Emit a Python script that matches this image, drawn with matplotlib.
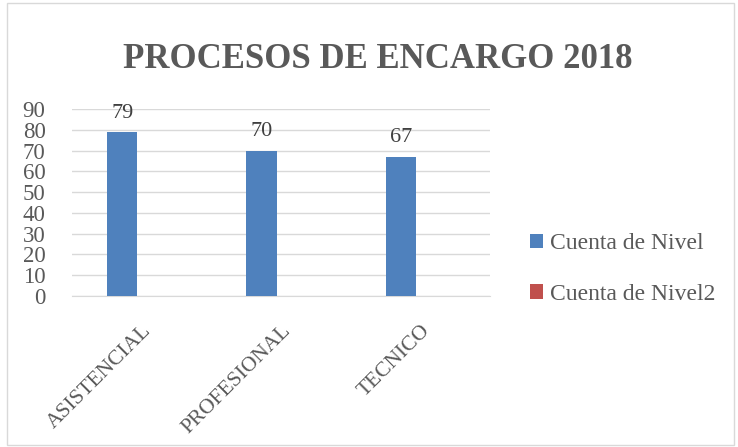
import numpy as np
import matplotlib
matplotlib.use("Agg")
import matplotlib.pyplot as plt
from matplotlib.patches import Rectangle

categorias = ['ASISTENCIAL', 'PROFESIONAL', 'TECNICO']
cuenta_nivel = [79, 70, 67]
cuenta_nivel2 = [0.2, 0, 0]
series = ['Cuenta de Nivel', 'Cuenta de Nivel2']
y_ticks = list(range(0, 91, 10))

plt.rcParams['font.family'] = ['Liberation Serif', 'DejaVu Serif']
gris = '#595959'
azul = '#4F81BD'
rojo = '#C0504D'

fig = plt.figure(figsize=(7.38, 4.47), dpi=100)
# borde del grafico
fig.patches.append(Rectangle((0.009, 0.004), 0.985, 0.99, transform=fig.transFigure,
                             fill=False, edgecolor='#D9D9D9', linewidth=1))

ax = fig.add_axes([72 / 738, 1 - 296 / 447, 418 / 738, 187 / 447])
x = np.arange(len(categorias))
w = 0.218
ax.bar(x - 0.14, cuenta_nivel, w, color=azul, label=series[0], zorder=3)
ax.bar(x + 0.144, cuenta_nivel2, w, color=rojo, label=series[1], zorder=3)

for xi, v in zip(x, cuenta_nivel):
    ax.text(xi - 0.14, v + 4.5, str(v), ha='center', va='bottom', fontsize=16, color='#404040')

ax.set_xlim(-0.5, 2.5)
ax.set_ylim(0, 90)
ax.set_yticks(y_ticks)
ax.set_yticklabels([str(t) for t in y_ticks], fontsize=16.5, color=gris)
ax.yaxis.grid(True, color='#D9D9D9', linewidth=1, zorder=0)
ax.tick_params(axis='y', length=0, pad=19)
ax.set_xticks(x)
ax.set_xticklabels(categorias, rotation=45, ha='right', rotation_mode='anchor',
                   fontsize=15.5, color=gris)
ax.tick_params(axis='x', length=0, pad=18)
for s in ['top', 'right', 'left']:
    ax.spines[s].set_visible(False)
ax.spines['bottom'].set_color('#D9D9D9')

fig.text(0.512, 0.868, 'PROCESOS DE ENCARGO 2018', ha='center', va='center',
         fontsize=25, fontweight='bold', color=gris)

fig.legend(loc='center left', bbox_to_anchor=(509 / 738, 1 - 269 / 447), frameon=False,
           fontsize=17, labelcolor=gris, handlelength=0.55, handleheight=0.55,
           handletextpad=0.3, labelspacing=1.25)

fig.savefig('out.png', dpi=100)
